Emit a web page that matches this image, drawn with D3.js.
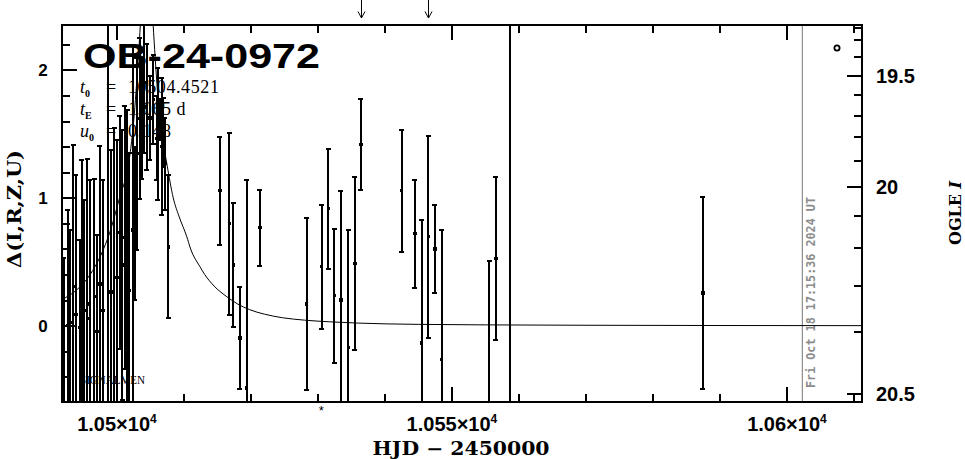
<!DOCTYPE html>
<html><head><meta charset="utf-8">
<script src="https://cdn.jsdelivr.net/npm/d3@7"></script>
<style>body{margin:0;background:#fff}svg{display:block}</style>
</head><body><svg id="c" width="965" height="459"></svg>
<script>
// ---------- data ----------
const obsHjd = [10492.04,10492.64,10493.05,10493.46,10493.88,10494.46,10494.76,10495.15,10495.59,10495.96,
  10496.61,10497.01,10497.46,10497.91,10498.61,10499.10,10499.63,10500.00,10500.45,10500.82,
  10501.19,10501.57,10501.87,10502.39,10502.69,10502.99,10503.43,10503.69,10504.03,10504.43,
  10504.93,10505.42,10505.93,10506.12,10506.42,10506.67,10506.91,10507.16,10507.66,
  10515.37,10516.76,10517.36,10518.36,10519.36,10521.34,10528.31,10530.55,10531.54,10532.43,
  10533.43,10534.52,10535.52,10536.42,10542.49,10544.48,10545.48,10546.46,10547.46,10548.46,
  10555.57,10556.57,10558.66,10587.46];
const obsDelta = [-0.11,0.003,0.025,0.308,0.09,-0.015,0.199,0.117,0.053,0.17,
  0.225,-0.045,0.326,0.12,4.0,0.263,0.374,0.377,0.727,0.475,
  0.688,0.395,0.276,0.749,0.80,1.345,1.62,1.585,1.9,1.71,
  1.624,1.77,1.467,1.5,1.61,1.40,1.509,1.266,0.616,
  1.055,0.796,0.475,-0.096,-0.488,0.765,0.17,0.46,0.914,0.233,
  0.201,-0.174,0.487,1.415,1.055,0.718,-0.135,0.695,0.60,-0.263,
  -0.738,0.526,4.0,0.256];
const obsErr = [0.64,0.903,0.725,1.108,1.09,0.686,1.099,0.867,1.253,0.97,
  0.925,0.755,1.076,1.02,6.0,1.113,1.174,1.077,0.91,1.057,
  1.027,1.295,1.076,1.449,0.60,0.75,0.63,0.44,0.55,0.49,
  0.326,0.35,0.326,0.517,0.16,0.536,0.27,0.36,0.56,
  0.423,0.713,0.486,0.40,1.63,0.30,0.67,0.485,0.47,0.525,
  0.85,0.92,0.677,0.356,0.476,0.423,0.96,0.79,0.345,1.01,
  1.245,0.638,6.0,0.753];

const modelHjd = [10491.8,10494,10496,10497.5,10499,10500.5,10501.5,10502,10502.5,10503.2,10503.8,10504.45,
  10505.1,10505.7,10506.4,10507.0,10507.5,10508.4,10509.3,10510.4,10511.0,10512.4,10513.1,10514.5,
  10516.3,10518,10519.8,10522,10524.7,10528,10531.7,10536,10540,10545,10555,10570,10590,10611.2];
const modelDelta = [0.205,0.28,0.40,0.54,0.74,1.02,1.2,1.36,1.6,2.1,2.6,2.9,
  2.6,2.1,1.6,1.4,1.25,1.0,0.85,0.7,0.6,0.46,0.40,0.31,
  0.23,0.17,0.125,0.09,0.062,0.043,0.03,0.02,0.014,0.01,0.006,0.003,0.001,0.0];

const xMajorTicks = [10500, 10550, 10600];
const xMajorLabels = ["1.05", "1.055", "1.06"];
const xMinorTicks = [10510,10520,10530,10540,10560,10570,10580,10590,10610];
const yMajorTicks = [0, 1, 2];
const yMinorTicks = [-0.4,-0.2,0.2,0.4,0.6,0.8,1.2,1.4,1.6,1.8,2.2];
const magMajorTicks = [19.5, 20, 20.5];
const magMinorTicks = [19.2,19.3,19.4,19.6,19.7,19.8,19.9,20.1,20.2,20.3,20.4];
// read correspondence between OGLE I magnitude and Δ on the left axis
const magRefMag = [19.2,19.3,19.4,19.5,19.6,19.7,19.8,19.9,20.0,20.1,20.2,20.3,20.4,20.5];
const magRefDelta = [2.328,2.237,2.104,1.955,1.806,1.644,1.475,1.290,1.088,0.859,0.608,0.311,-0.049,-0.537];
const arrowHjd = [10536.5, 10546.5];
const starHjd = [10530.5];
const nowHjd = 10602.3;
const title = "OB-24-0972";
const paramNames = ["t","t","u"];
const paramSubs = ["0","E","0"];
const paramValues = ["10504.4521","1.065","0.148"];
const paramUnits = [""," d",""];

// ---------- layout ----------
const L = 62, R = 862, T = 25, B = 401.7;
const svg = d3.select("#c");
const x = d3.scaleLinear().domain([10491.8, 10611.2]).range([L, R]);
const y = d3.scaleLinear().domain([-0.595, 2.352]).range([B, T]);
const magToDelta = d3.scaleLinear().domain(magRefMag).range(magRefDelta);
const yMag = m => y(magToDelta(m));

svg.append("defs").append("clipPath").attr("id","clip")
  .append("rect").attr("x",L).attr("y",T).attr("width",R-L).attr("height",B-T);

// gray "now" line + timestamp
svg.append("line").attr("x1",x(nowHjd)).attr("x2",x(nowHjd)).attr("y1",T).attr("y2",B)
  .attr("stroke","#8c8c8c").attr("stroke-width",1.2);
svg.append("text").attr("transform",`translate(${x(nowHjd)+13},388) rotate(-90)`)
  .attr("font-family","DejaVu Sans Mono, monospace").attr("font-weight","bold")
  .attr("font-size",12).attr("fill","#8c8c8c")
  .attr("textLength",191).attr("lengthAdjust","spacingAndGlyphs")
  .text("Fri Oct 18 17:15:36 2024 UT");

// title & params
svg.append("text").attr("x",83).attr("y",68).attr("font-family","Liberation Sans, Arial, sans-serif")
  .attr("font-weight","bold").attr("font-size",35).attr("textLength",237).attr("lengthAdjust","spacingAndGlyphs")
  .text(title);
const serif = "Liberation Serif, Times New Roman, serif";
paramNames.forEach((n,i)=>{
  const by = 93 + i*22;
  const t = svg.append("text").attr("x",80).attr("y",by).attr("font-family",serif).attr("font-size",18);
  t.append("tspan").attr("font-style","italic").text(n);
  t.append("tspan").attr("font-size",10).attr("font-weight","bold").attr("dy",4).text(paramSubs[i]);
  svg.append("text").attr("x",106).attr("y",by).attr("font-family",serif).attr("font-size",18).text("=");
  svg.append("text").attr("x",128).attr("y",by).attr("font-family",serif).attr("font-size",18)
    .attr("letter-spacing",0.6).text(paramValues[i] + paramUnits[i]);
});

const gData = svg.append("g").attr("clip-path","url(#clip)");

// model curve
gData.append("path")
  .datum(modelHjd.map((h,i)=>[h, modelDelta[i]]))
  .attr("fill","none").attr("stroke","#000").attr("stroke-width",1)
  .attr("d", d3.line().x(d=>x(d[0])).y(d=>y(d[1])).curve(d3.curveMonotoneX));

// error bars
const pts = obsHjd.map((h,i)=>({h, d:obsDelta[i], e:obsErr[i]}));
const eb = gData.selectAll("g.eb").data(pts).join("g").attr("class","eb")
  .attr("shape-rendering","crispEdges");
eb.append("line").attr("x1",p=>x(p.h)).attr("x2",p=>x(p.h))
  .attr("y1",p=>y(p.d+p.e)).attr("y2",p=>y(p.d-p.e)).attr("stroke","#000").attr("stroke-width",2);
eb.append("line").attr("x1",p=>x(p.h)-2.5).attr("x2",p=>x(p.h)+2.5)
  .attr("y1",p=>y(p.d+p.e)).attr("y2",p=>y(p.d+p.e)).attr("stroke","#000").attr("stroke-width",2);
eb.append("line").attr("x1",p=>x(p.h)-2.5).attr("x2",p=>x(p.h)+2.5)
  .attr("y1",p=>y(p.d-p.e)).attr("y2",p=>y(p.d-p.e)).attr("stroke","#000").attr("stroke-width",2);
eb.append("rect").attr("x",p=>x(p.h)-1.6).attr("y",p=>y(p.d)-1.6).attr("width",3.2).attr("height",3.2).attr("fill","#000");

// axes (ticks inward)
function tickAxis(gen, vals, size, tr){
  const g = svg.append("g").attr("transform",tr)
    .call(gen.tickValues(vals).tickSize(size).tickFormat(""));
  g.select(".domain").remove();
  g.selectAll("line").attr("stroke","#000").attr("stroke-width",2).attr("shape-rendering","crispEdges");
}
tickAxis(d3.axisBottom(x), xMajorTicks, -15, `translate(0,${B})`);
tickAxis(d3.axisBottom(x), xMinorTicks, -8, `translate(0,${B})`);
tickAxis(d3.axisTop(x), xMajorTicks, -15, `translate(0,${T})`);
tickAxis(d3.axisTop(x), xMinorTicks, -8, `translate(0,${T})`);
tickAxis(d3.axisLeft(y), yMajorTicks, -15, `translate(${L},0)`);
tickAxis(d3.axisLeft(y), yMinorTicks, -8, `translate(${L},0)`);
// right axis ticks drawn via magnitude->Δ scale
svg.append("g").attr("shape-rendering","crispEdges").selectAll("line")
  .data(magMajorTicks.concat(magMinorTicks)).join("line")
  .attr("x1",R).attr("x2",m=>R-(magMajorTicks.includes(m)?15.5:8))
  .attr("y1",yMag).attr("y2",yMag).attr("stroke","#000").attr("stroke-width",2);

// frame
svg.append("rect").attr("x",L).attr("y",T).attr("width",R-L).attr("height",B-T)
  .attr("fill","none").attr("stroke","#000").attr("stroke-width",2.4).attr("shape-rendering","crispEdges");

// tick labels
const numFont = "Liberation Sans, Arial, sans-serif";
svg.append("g").selectAll("text").data(yMajorTicks).join("text")
  .attr("x",43).attr("y",d=>y(d)+6).attr("text-anchor","middle")
  .attr("font-family",numFont).attr("font-weight","bold").attr("font-size",17).text(d=>d);
svg.append("g").selectAll("text").data(magMajorTicks).join("text")
  .attr("x",876).attr("y",m=>yMag(m)+7).attr("font-family",numFont).attr("font-weight","bold")
  .attr("font-size",20).text(m=>m);
xMajorTicks.forEach((v,i)=>{
  const t = svg.append("text").attr("x",x(v)).attr("y",431).attr("text-anchor","middle")
    .attr("font-family",numFont).attr("font-weight","bold").attr("font-size",20);
  t.append("tspan").text(xMajorLabels[i] + "×10");
  t.append("tspan").attr("font-size",12).attr("dy",-8).text("4");
});

// axis titles
svg.append("text").attr("x",461).attr("y",455).attr("text-anchor","middle")
  .attr("font-family","DejaVu Serif, serif").attr("font-weight","bold").attr("font-size",18)
  .attr("textLength",177).attr("lengthAdjust","spacingAndGlyphs").text("HJD − 2450000");
svg.append("text").attr("transform","translate(21,209) rotate(-90)").attr("text-anchor","middle")
  .attr("font-family","DejaVu Serif, serif").attr("font-weight","bold").attr("font-size",19)
  .attr("textLength",118).attr("lengthAdjust","spacingAndGlyphs").text("Δ(I,R,Z,U)");
const og = svg.append("text").attr("transform","translate(961,213) rotate(-90)").attr("text-anchor","middle")
  .attr("font-family","DejaVu Serif, serif").attr("font-weight","bold").attr("font-size",16);
og.append("tspan").text("OGLE ");
og.append("tspan").attr("font-style","italic").text("I");

// misc annotations
svg.append("text").attr("x",80).attr("y",384).attr("font-family",serif)
  .attr("font-size",12).attr("textLength",65).attr("lengthAdjust","spacingAndGlyphs").text("SIGNALMEN");
svg.selectAll("text.star").data(starHjd).join("text").attr("class","star")
  .attr("x",d=>x(d)).attr("y",415).attr("text-anchor","middle")
  .attr("font-family","Liberation Sans, sans-serif").attr("font-size",13).text("*");
svg.append("circle").attr("cx",837).attr("cy",48).attr("r",2.6).attr("fill","none")
  .attr("stroke","#000").attr("stroke-width",1.8);
const ar = svg.append("g").selectAll("g").data(arrowHjd).join("g");
ar.append("line").attr("x1",d=>x(d)).attr("x2",d=>x(d)).attr("y1",0).attr("y2",18)
  .attr("stroke","#000").attr("stroke-width",1);
ar.append("path").attr("d",d=>`M${x(d)-3.5},11.5 L${x(d)},18 L${x(d)+3.5},11.5`)
  .attr("fill","none").attr("stroke","#000").attr("stroke-width",1);
</script></body></html>
